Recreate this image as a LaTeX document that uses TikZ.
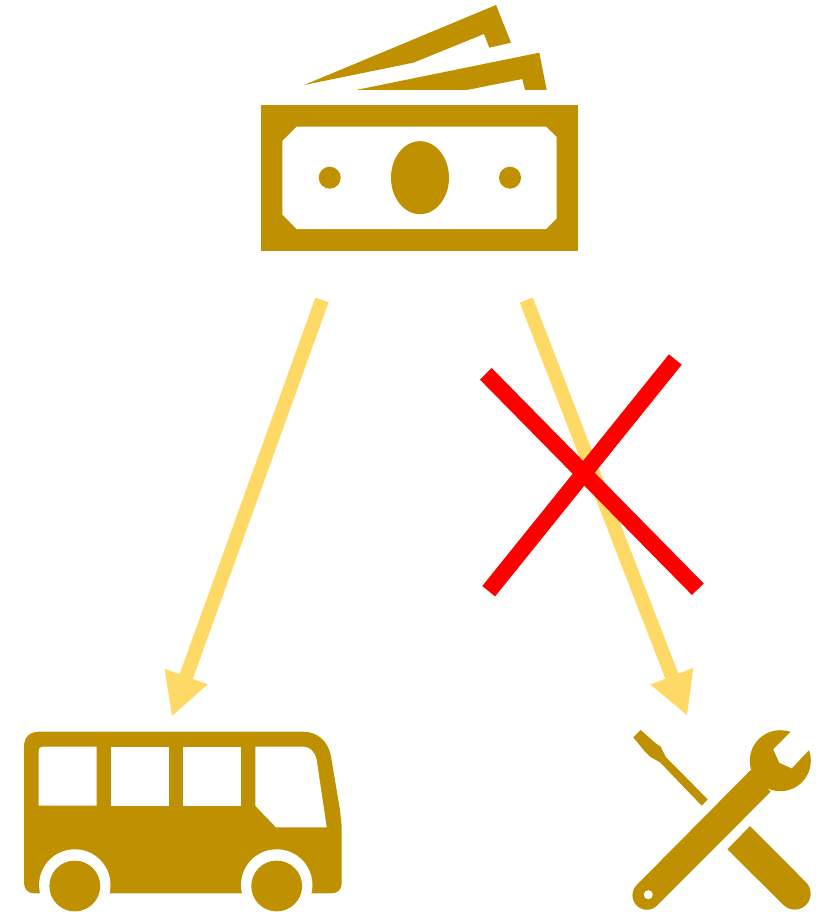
\documentclass[tikz,border=0pt]{standalone}
\usepackage{xcolor}
\usepackage{tikz}
\usetikzlibrary{arrows.meta,positioning,calc}
\definecolor{icongold}{HTML}{BF9000}
\definecolor{arrowgold}{HTML}{FFD966}
\begin{document}
\begin{tikzpicture}[x=1pt,y=-1pt,
    icon/.style={fill=icongold},
    hole/.style={fill=white},
    flow/.style={draw=arrowgold,line width=14pt,-{Triangle[length=42.7pt,width=42.7pt]}},
    cross/.style={draw=red,line width=16.5pt}]
  \useasboundingbox (0,0) rectangle (818,912);
  % money
  \fill[icon] (304,85) -- (496,5) -- (511,42.7) -- (489.3,47.7) -- (484,34) -- (413.3,62.7) -- cycle;
  \fill[icon] (356,90) -- (539.3,52.7) -- (546.7,90) -- (525,90) -- (522.3,79) -- (466.7,90) -- cycle;
  \fill[icon] (261,104.7) rectangle (578,250.7);
  \fill[hole] (296.7,126.7) -- (546,126.7) -- (556.7,137) -- (556.7,218.5) -- (546,229)
    -- (296.7,229) -- (282.3,214.5) -- (282.3,141) -- cycle;
  \fill[icon] (420,177.7) ellipse [x radius=29,y radius=36.5];
  \fill[icon] (329.7,177.7) circle (11);
  \fill[icon] (510,177.7) circle (11);
  \coordinate (moneyl) at (322,300);
  \coordinate (moneyr) at (526.2,300);
  % bus
  \fill[icon] (39,731.7) -- (303.3,731.7) .. controls (318,731.7) and (328,742) .. (330.7,755)
    -- (340,810) -- (341.7,826.7) -- (341.7,883) .. controls (341.7,889) and (338,893.3) .. (331.7,893.3)
    -- (34,893.3) .. controls (28,893.3) and (24,889) .. (24,883) -- (24,746.7)
    .. controls (24,737) and (30,731.7) .. (39,731.7) -- cycle;
  \fill[hole] (38.7,751) .. controls (38.7,748) and (40,746.7) .. (43,746.7) -- (96.7,746.7)
    -- (96.7,805.7) -- (38.7,805.7) -- cycle;
  \fill[hole] (110.7,746.7) rectangle (168.7,805.7);
  \fill[hole] (182.7,746.7) rectangle (240.7,805.7);
  \fill[hole] (255.3,746.7) -- (303.3,746.7) .. controls (310,746.7) and (315,752) .. (316.7,760)
    -- (326.7,827.3) -- (276,827.3) -- (255.3,805.7) -- cycle;
  \foreach \wheelx in {74.8,276.7} {
    \fill[hole] (\wheelx,885) circle (35.7);
    \fill[icon] (\wheelx,886) circle (25.4);
  }
  \coordinate (bus) at (171.7,716.7);
  % tools
  \fill[icon] (640.7,730) -- (633.3,737.3) -- (645,751.7) -- (650,756.7) -- (660,762.3) -- (701.7,805.7)
    -- (707.7,799.3) -- (666,757.3) -- (660.7,746.7) -- (655,742.7) -- cycle;
  \fill[icon] (750,826) -- (806,882.3) arc [start angle=-45,end angle=135,radius=16] -- (727.3,849.3) -- cycle;
  \fill[icon] (780.3,760.7) circle (30.5);
  \fill[icon] (750.7,770) -- (636.7,885) arc [start angle=225,end angle=45,radius=14.5] -- (770.7,791.7) -- cycle;
  \fill[hole] (790,732.7) -- (773.3,749.3) -- (779.3,762.7) -- (791.7,768.3) -- (808.3,750.7)
    -- (818,741) -- (800,722) -- cycle;
  \fill[hole] (648.3,894.7) circle (4.5);
  \coordinate (tools) at (687.3,716);
  % connectors
  \draw[flow] (moneyl) -- (bus);
  \draw[flow] (moneyr) -- (tools);
  \draw[cross] (485.8,373.8) -- (697.8,589.2);
  \draw[cross] (675.3,359.5) -- (488.7,591.2);
\end{tikzpicture}
\end{document}
